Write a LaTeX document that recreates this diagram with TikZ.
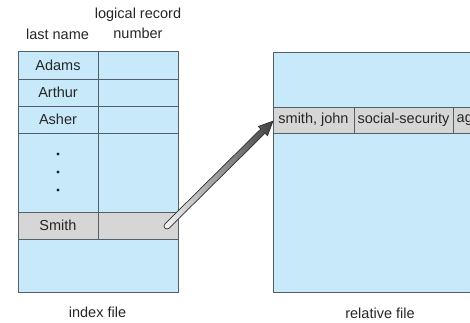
\documentclass[tikz,border=0pt]{standalone}
\usepackage{fontspec}
\setmainfont{Liberation Sans}
\usetikzlibrary{calc}
\definecolor{paleblue}{RGB}{199,233,249}
\definecolor{cellgrey}{RGB}{214,214,214}
\definecolor{edge}{RGB}{84,96,104}
\definecolor{dotc}{RGB}{20,30,50}
\begin{document}
\begin{tikzpicture}[x=1pt,y=-1pt,
  txt/.style={font=\fontsize{14.5}{16}\selectfont, text=black!85, inner sep=0pt},
  cell/.style={draw=edge, line width=0.9pt, fill=paleblue, inner sep=0pt, outer sep=0pt, anchor=north west, font=\fontsize{14.5}{16}\selectfont, text=black!85},
  greycell/.style={cell, fill=cellgrey}]
\useasboundingbox (0,0) rectangle (470,322);
\clip (0,0) rectangle (470,322);
% headers
\node[txt] (lr) at (138,15) {logical record};
\node[txt] (num) at (138,33) {number};
\node[txt] (ln) at (57.5,34) {last name};
% index table
\node[cell, minimum width=160, minimum height=241] (index) at (18,51) {};
\node[cell, minimum width=80, minimum height=28] (adams) at (18,51) {Adams};
\node[cell, minimum width=80, minimum height=28] (adamsn) at (98,51) {};
\node[cell, minimum width=80, minimum height=27] (arthur) at (18,79) {Arthur};
\node[cell, minimum width=80, minimum height=27] (arthurn) at (98,79) {};
\node[cell, minimum width=80, minimum height=27] (asher) at (18,106) {Asher};
\node[cell, minimum width=80, minimum height=27] (ashern) at (98,106) {};
\node[cell, minimum width=80, minimum height=79] (gap) at (18,133) {};
\node[cell, minimum width=80, minimum height=79] (gapn) at (98,133) {};
\node[greycell, minimum width=80, minimum height=27] (smith) at (18,212) {Smith};
\node[greycell, minimum width=80, minimum height=27] (smithn) at (98,212) {};
\fill[dotc] (58,154) circle (1.6) (58,172) circle (1.6) (58,190) circle (1.6);
\node[txt] (indexlbl) at (97.5,312) {index file};
% relative file
\node[cell, minimum width=230, minimum height=240] (rel) at (273,52) {};
\node[greycell, minimum width=81, minimum height=26] (sj) at (273,107) {smith, john};
\node[greycell, minimum width=99, minimum height=26] (ss) at (354,107) {social-security};
\node[greycell, minimum width=60, minimum height=26] (agec) at (453,107) {};
\node[txt, anchor=west] (age) at ($(agec.west)+(3.5,0)$) {age};
\node[txt] (rellbl) at (380,313) {relative file};
% arrow
\coordinate (tail) at (167,226);
\begin{scope}[shift={(tail)}, rotate=44.7]
  \shade[left color=gray!8, right color=gray!50!black, draw=gray!35!black, line width=0.7pt]
    (0,-3) -- (135,-3) -- (135,-6.5) -- (149,0) -- (135,6.5) -- (135,3) -- (0,3) arc (90:270:3) -- cycle;
\end{scope}
\end{tikzpicture}
\end{document}
